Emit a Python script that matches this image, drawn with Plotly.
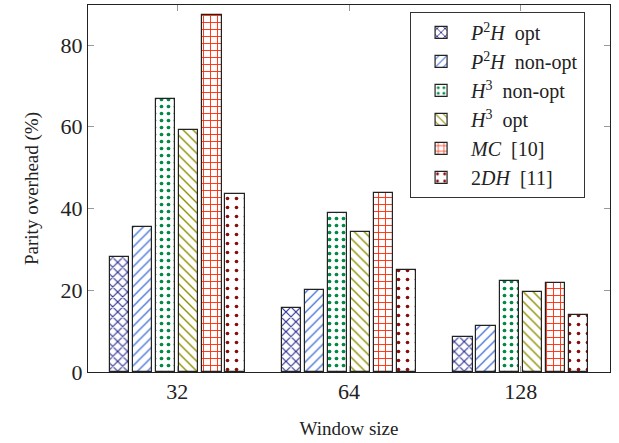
import plotly.graph_objects as go

categories = ["32", "64", "128"]
series_names = ["<i>P</i><sup>2</sup><i>H</i>  opt", "<i>P</i><sup>2</sup><i>H</i>  non-opt",
                "<i>H</i><sup>3</sup>  non-opt", "<i>H</i><sup>3</sup>  opt",
                "<i>MC</i>  [10]", "2<i>DH</i>  [11]"]
p2h_opt = [28.1, 15.7, 8.6]
p2h_nonopt = [35.6, 20.1, 11.3]
h3_nonopt = [66.9, 38.9, 22.3]
h3_opt = [59.3, 34.3, 19.5]
mc = [87.4, 43.7, 21.9]
dh2 = [43.6, 25.0, 14.0]
values = [p2h_opt, p2h_nonopt, h3_nonopt, h3_opt, mc, dh2]

colors = ["#2e3192", "#3f6fd8", "#008a45", "#8f8f00", "#ff3010", "#8b0a0a"]
shapes = ["x", "/", ".", "\\", "+", "."]
psizes = [7, 7, 7, 7, 7, 9]
solid = [0.3, 0.18, 0.22, 0.2, 0.25, 0.13]

xpos = list(range(len(categories)))
pitch = 0.1345
bw = 0.112

fig = go.Figure()
for i, (name, vals) in enumerate(zip(series_names, values)):
    fig.add_trace(go.Bar(
        x=xpos, y=vals, name=name, legendgroup="g%d" % i,
        width=bw, offset=(i - 2.5) * pitch - bw / 2,
        marker=dict(color="white",
                    line=dict(color="#222222", width=1.2),
                    pattern=dict(shape=shapes[i], fgcolor=colors[i], bgcolor="white",
                                 size=psizes[i], solidity=solid[i], fillmode="replace",
                                 fgopacity=1)),
    ))

font_family = "Liberation Serif, Times New Roman, serif"
axis_common = dict(showline=True, linecolor="#222222", linewidth=1, mirror="ticks",
                   ticks="inside", ticklen=6, tickcolor="#999999", showgrid=False,
                   zeroline=False, tickfont=dict(family=font_family, size=22, color="#222222"))
fig.update_layout(
    barmode="overlay",
    width=619, height=443,
    margin=dict(l=88, r=9, t=5, b=71),
    plot_bgcolor="white", paper_bgcolor="white",
    font=dict(family=font_family, color="#222222"),
    xaxis=dict(range=[-0.52, 2.52], tickvals=xpos, ticktext=categories,
               title=dict(text="Window size", font=dict(size=19), standoff=18), **axis_common),
    yaxis=dict(range=[0, 89.8], tickvals=[0, 20, 40, 60, 80],
               title=dict(text="Parity overhead (%)", font=dict(size=19), standoff=16), **axis_common),
    legend=dict(x=0.617, y=0.981, xanchor="left", yanchor="top",
                bordercolor="#333333", borderwidth=1, bgcolor="white",
                font=dict(family=font_family, size=20, color="#222222"),
                traceorder="normal", itemwidth=50, tracegroupgap=7),
    bargap=0,
)
fig.write_html("out.html", config={"displayModeBar": False},
               post_script="document.body.style.margin='0';")
